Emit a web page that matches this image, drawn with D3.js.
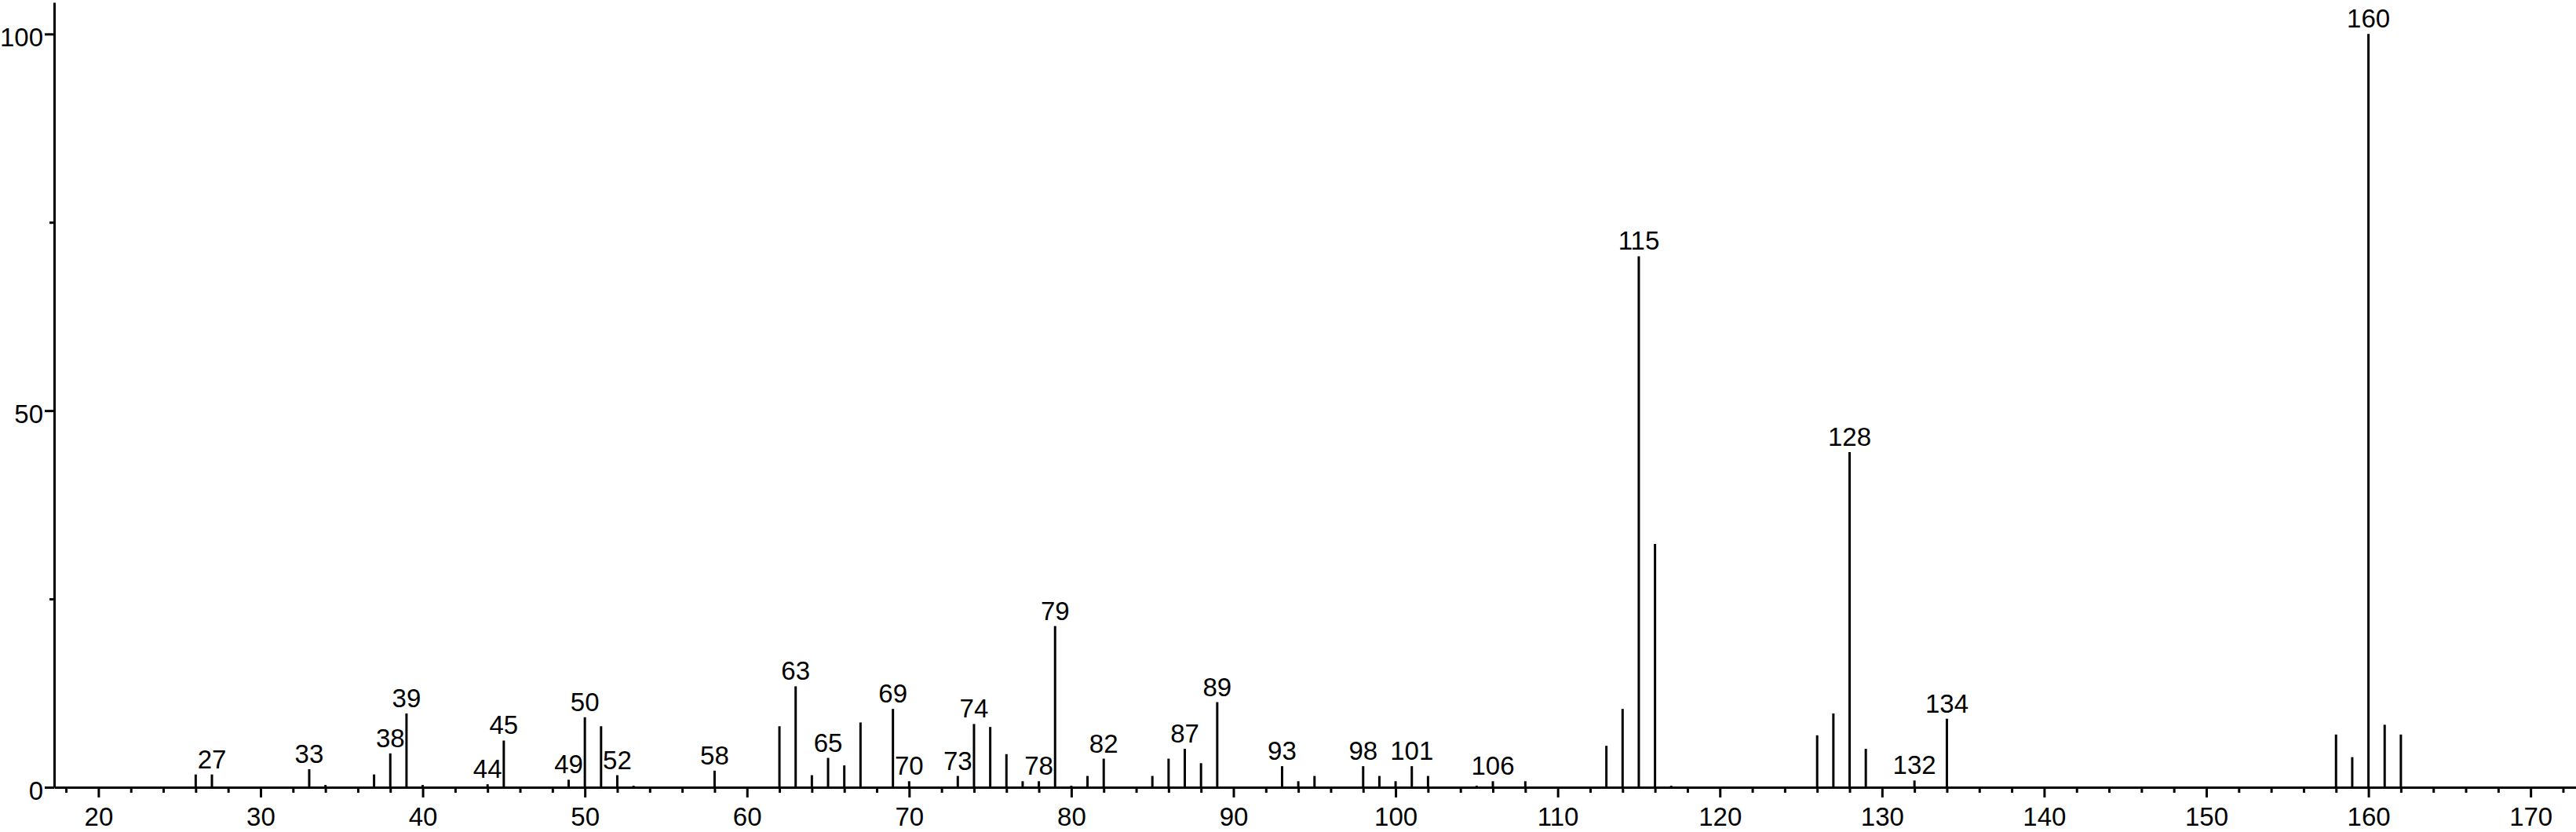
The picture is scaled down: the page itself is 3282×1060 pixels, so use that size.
<!DOCTYPE html>
<html>
<head>
<meta charset="utf-8">
<script src="https://cdn.jsdelivr.net/npm/d3@7"></script>
<style>
  html, body { margin: 0; padding: 0; background: #fff; }
  svg { display: block; }
  text { font-family: "Liberation Sans", Arial, Helvetica, sans-serif; }
</style>
</head>
<body>
<script>
// ---- data ----
const mz = [26, 27, 33, 34, 37, 38, 39, 40, 44, 45, 49, 50, 51, 52, 53, 58, 62, 63, 64, 65, 66, 67, 69, 70,
            73, 74, 75, 76, 77, 78, 79, 80, 81, 82, 83, 85, 86, 87, 88, 89, 93, 94, 95, 98, 99, 100, 101, 102,
            105, 106, 108, 113, 114, 115, 116, 117, 126, 127, 128, 129, 132, 134, 158, 159, 160, 161, 162];
const intensity = [1.7, 1.7, 2.4, 0.3, 1.7, 4.5, 9.8, 0.3, 0.4, 6.2, 1.0, 9.3, 8.1, 1.6, 0.2, 2.2, 8.1, 13.4, 1.6, 3.9, 2.9, 8.6, 10.4, 0.8,
            1.5, 8.4, 8.0, 4.4, 0.8, 0.8, 21.4, 0.2, 1.5, 3.8, 0.1, 1.5, 3.8, 5.1, 3.2, 11.3, 2.8, 0.8, 1.5, 2.8, 1.5, 0.8, 2.8, 1.5,
            0.2, 0.8, 0.8, 5.5, 10.4, 70.5, 32.3, 0.2, 6.9, 9.8, 44.5, 5.1, 0.9, 9.1, 7.0, 4.0, 100, 8.3, 7.0];
const labeledPeaks = [27, 33, 38, 39, 44, 45, 49, 50, 52, 58, 63, 65, 69, 70, 73, 74, 78, 79, 82, 87, 89, 93, 98,
                      101, 106, 115, 128, 132, 134, 160];
const xMajorTicks = [20, 30, 40, 50, 60, 70, 80, 90, 100, 110, 120, 130, 140, 150, 160, 170];
const xMinorTicks = [18, 22, 24, 26, 28, 32, 34, 36, 38, 42, 44, 46, 48, 52, 54, 56, 58, 62, 64, 66, 68, 72, 74, 76, 78,
                     82, 84, 86, 88, 92, 94, 96, 98, 102, 104, 106, 108, 112, 114, 116, 118, 122, 124, 126, 128,
                     132, 134, 136, 138, 142, 144, 146, 148, 152, 154, 156, 158, 162, 164, 166, 168, 172];
const yMajorTicks = [0, 50, 100];
const yMinorTicks = [25, 75];
const xDomain = [17.27, 172.8];
const yDomain = [0, 104.2];

// ---- layout ----
const W = 3282, H = 1060;
const plotLeft = 69, plotRight = 3282, plotTop = 3, plotBottom = 1003;
const FS = 33;

const svg = d3.select("body").append("svg").attr("width", W).attr("height", H);
svg.append("rect").attr("width", W).attr("height", H).attr("fill", "#fff");

const x = d3.scaleLinear().domain(xDomain).range([plotLeft, plotRight]);
const y = d3.scaleLinear().domain(yDomain).range([plotBottom, plotTop]);

const peaks = mz.map((m, i) => ({ m, v: intensity[i] }));

// peaks
svg.append("g").selectAll("line").data(peaks).join("line")
  .attr("x1", d => x(d.m)).attr("x2", d => x(d.m))
  .attr("y1", y(0)).attr("y2", d => y(d.v))
  .attr("stroke", "#000").attr("stroke-width", 3);

// x axis minor ticks
const gxMinor = svg.append("g").attr("transform", `translate(0,${plotBottom})`)
  .call(d3.axisBottom(x).tickValues(xMinorTicks).tickSize(7).tickSizeOuter(0).tickFormat(""));
gxMinor.select(".domain").remove();
gxMinor.selectAll("line").attr("stroke-width", 3);

// x axis major
const gx = svg.append("g").attr("transform", `translate(0,${plotBottom})`)
  .call(d3.axisBottom(x).tickValues(xMajorTicks).tickSize(13).tickSizeOuter(0).tickPadding(13).tickFormat(d3.format("d")));
gx.select(".domain").attr("stroke-width", 3);
gx.selectAll("line").attr("stroke-width", 3);
gx.selectAll("text").attr("font-size", FS).attr("font-family", "Liberation Sans, Arial, sans-serif").attr("fill", "#000");

// y axis minor
const gyMinor = svg.append("g").attr("transform", `translate(${plotLeft},0)`)
  .call(d3.axisLeft(y).tickValues(yMinorTicks).tickSize(6).tickSizeOuter(0).tickFormat(""));
gyMinor.select(".domain").remove();
gyMinor.selectAll("line").attr("stroke-width", 3);

// y axis major
const gy = svg.append("g").attr("transform", `translate(${plotLeft},0)`)
  .call(d3.axisLeft(y).tickValues(yMajorTicks).tickSize(12).tickSizeOuter(0).tickPadding(2).tickFormat(d3.format("d")));
gy.select(".domain").attr("stroke-width", 3);
gy.selectAll("line").attr("stroke-width", 3);
gy.selectAll("text").attr("font-size", FS).attr("font-family", "Liberation Sans, Arial, sans-serif")
  .attr("fill", "#000").attr("dy", "0.46em");

// peak labels
svg.append("g").selectAll("text").data(peaks.filter(p => labeledPeaks.includes(p.m))).join("text")
  .attr("x", d => x(d.m))
  .attr("y", d => y(d.v) - 8)
  .attr("text-anchor", "middle")
  .attr("font-size", FS)
  .attr("fill", "#000")
  .text(d => d.m);
</script>
</body>
</html>
